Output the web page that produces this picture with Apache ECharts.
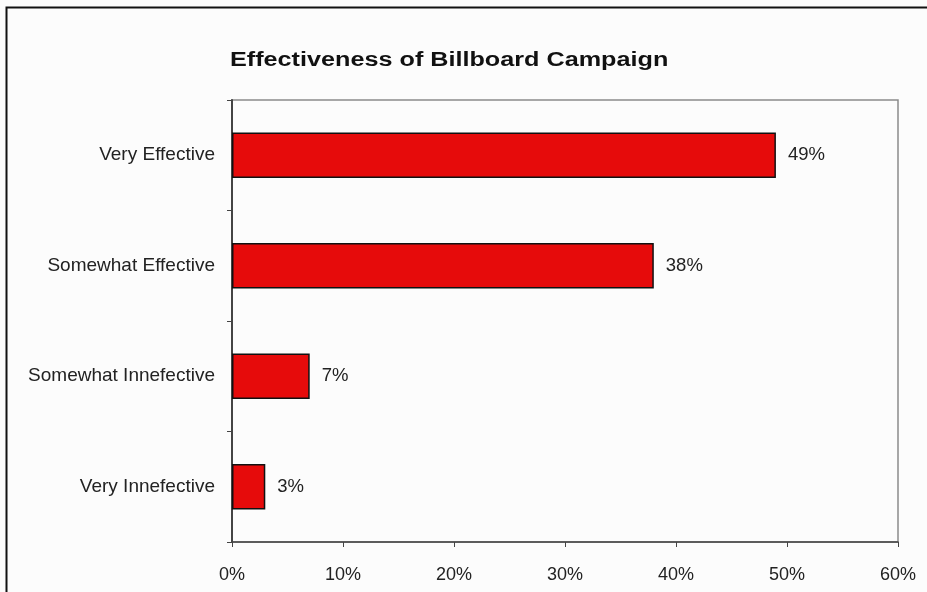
<!DOCTYPE html>
<html>
<head>
<meta charset="utf-8">
<script src="https://cdn.jsdelivr.net/npm/echarts@6/dist/echarts.min.js"></script>
<style>
html,body{margin:0;padding:0;background:#fcfcfc;}
#chart{width:927px;height:592px;}
</style>
</head>
<body>
<div id="chart"></div>
<script>
const title = "Effectiveness of Billboard Campaign";
const categories = ["Very Effective", "Somewhat Effective", "Somewhat Innefective", "Very Innefective"];
const values = [49, 38, 7, 3];
const xTicks = [0, 10, 20, 30, 40, 50, 60];

const FONT = "'Liberation Sans', Arial, sans-serif";
const chart = echarts.init(document.getElementById('chart'), null, {renderer: 'canvas'});
chart.setOption({
  backgroundColor: '#fcfcfc',
  animation: false,
  graphic: [{
    type: 'rect', left: 4, top: 5,
    shape: {width: 1000, height: 1000},
    style: {fill: 'none', stroke: '#111', lineWidth: 2}
  }, {
    type: 'text', x: 230, y: 50, scaleX: 1.26, originX: 0, originY: 0,
    style: {text: title, fontFamily: FONT, fontSize: 20, fontWeight: 'bold', fill: '#111',
      align: 'left', verticalAlign: 'top'}
  }],
  grid: {
    left: 232, top: 100, right: 29, bottom: 50,
    show: true, borderColor: '#8a8a8a', borderWidth: 1.5, backgroundColor: 'transparent'
  },
  xAxis: {
    type: 'value', min: xTicks[0], max: xTicks[xTicks.length - 1], interval: 10,
    axisLine: {show: true, lineStyle: {color: '#444', width: 1.5}},
    axisTick: {show: true, length: 5, lineStyle: {color: '#444'}},
    splitLine: {show: false},
    axisLabel: {formatter: '{value}%', margin: 24, fontFamily: FONT, fontSize: 18, color: '#222'}
  },
  yAxis: {
    type: 'category', data: categories, inverse: true,
    axisLine: {show: true, lineStyle: {color: '#444', width: 2}},
    axisTick: {show: true, length: 5, lineStyle: {color: '#444'}},
    axisLabel: {margin: 17, fontFamily: FONT, fontSize: 19, color: '#222'}
  },
  series: [{
    type: 'bar', data: values, barWidth: '41%',
    itemStyle: {color: '#e60b0b', borderColor: '#111', borderWidth: 1.5},
    label: {show: true, position: 'right', distance: 12, formatter: '{c}%',
      fontFamily: FONT, fontSize: 18.5, color: '#222'}
  }]
});
</script>
</body>
</html>
